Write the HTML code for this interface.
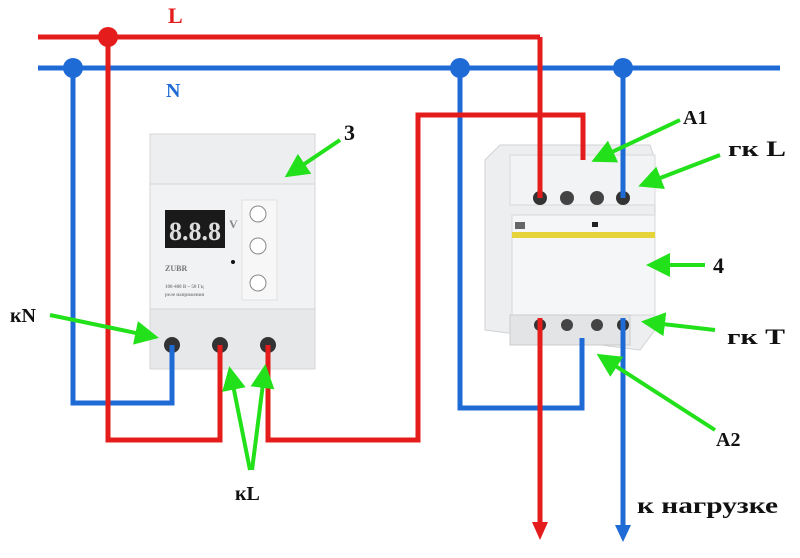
<!DOCTYPE html>
<html><head><meta charset="utf-8"><style>
body{margin:0;background:#fff;width:800px;height:558px;overflow:hidden}
svg{display:block}
text{font-family:"Liberation Serif",serif;font-weight:bold}
</style></head><body>
<svg width="800" height="558" viewBox="0 0 800 558" xmlns="http://www.w3.org/2000/svg">
<defs>
<marker id="g" markerWidth="6" markerHeight="6" refX="5" refY="3" orient="auto" markerUnits="strokeWidth"><path d="M0,0L6,3L0,6z" fill="#22e01a"/></marker>
</defs>
<rect x="150" y="134" width="165" height="50" fill="#eceeef" stroke="#d4d6d8"/>
<rect x="150" y="184" width="165" height="125" fill="#f1f2f3" stroke="#d4d6d8"/>
<rect x="150" y="309" width="165" height="60" fill="#e6e8ea" stroke="#d4d6d8"/>
<rect x="165" y="210" width="60" height="38" fill="#1a1a1a"/>
<text x="195" y="240" font-size="26" fill="#ddd" text-anchor="middle" font-family="Liberation Mono" font-weight="normal">8.8.8</text>
<text x="229" y="228" font-size="12" fill="#888" font-weight="normal">V</text>
<rect x="242" y="200" width="35" height="100" fill="#f7f7f7" stroke="#e0e0e0"/>
<circle cx="258" cy="214" r="8" fill="#fff" stroke="#888"/>
<circle cx="258" cy="246" r="8" fill="#fff" stroke="#888"/>
<circle cx="258" cy="283" r="8" fill="#fff" stroke="#888"/>
<circle cx="233" cy="262" r="2" fill="#111"/>
<text x="165" y="271" font-size="8" fill="#777" font-weight="normal" font-family="Liberation Sans">ZUBR</text>
<text x="165" y="288" font-size="5" fill="#888" font-weight="normal" font-family="Liberation Sans">100-400 В ~ 50 Гц</text>
<text x="165" y="296" font-size="5" fill="#888" font-weight="normal" font-family="Liberation Sans">реле напряжения</text>
<circle cx="172" cy="345" r="8" fill="#333"/>
<circle cx="220" cy="345" r="8" fill="#333"/>
<circle cx="268" cy="345" r="8" fill="#333"/>
<polygon points="485,160 500,145 650,145 655,160 655,330 640,350 485,330" fill="#eceeef" stroke="#d0d2d4"/>
<rect x="510" y="155" width="145" height="50" fill="#f2f3f4" stroke="#d8d8d8"/>
<rect x="512" y="215" width="143" height="100" fill="#f5f6f7" stroke="#d8d8d8"/>
<rect x="512" y="232" width="143" height="6" fill="#e6d43a"/>
<rect x="515" y="222" width="10" height="7" fill="#666"/>
<rect x="592" y="222" width="6" height="5" fill="#222"/>
<rect x="510" y="315" width="120" height="30" fill="#e2e4e6" stroke="#ccc"/>
<circle cx="540" cy="198" r="7" fill="#333"/><circle cx="567" cy="198" r="7" fill="#444"/>
<circle cx="597" cy="198" r="7" fill="#444"/><circle cx="623" cy="198" r="7" fill="#333"/>
<circle cx="540" cy="325" r="6" fill="#333"/><circle cx="567" cy="325" r="6" fill="#444"/>
<circle cx="597" cy="325" r="6" fill="#444"/><circle cx="623" cy="325" r="6" fill="#333"/>
<g fill="none" stroke="#1f6bd6" stroke-width="5">
<line x1="38" y1="68" x2="780" y2="68"/>
<polyline points="73,68 73,403 172,403 172,345"/>
<polyline points="460,68 460,408 582,408 582,338"/>
<line x1="623" y1="68" x2="623" y2="198"/>
<line x1="623" y1="318" x2="623" y2="530"/>
</g>
<polygon points="615,525 631,525 623,542" fill="#1f6bd6"/>
<circle cx="73" cy="68" r="10" fill="#1f6bd6"/>
<circle cx="460" cy="68" r="10" fill="#1f6bd6"/>
<circle cx="623" cy="68" r="10" fill="#1f6bd6"/>
<g fill="none" stroke="#e41c1c" stroke-width="5">
<line x1="38" y1="37" x2="540" y2="37"/>
<line x1="540" y1="37" x2="540" y2="198"/>
<polyline points="108,37 108,440 220,440 220,345"/>
<polyline points="268,345 268,440 418,440 418,115 583,115 583,160"/>
<line x1="540" y1="318" x2="540" y2="525"/>
</g>
<polygon points="532,522 548,522 540,540" fill="#e41c1c"/>
<circle cx="108" cy="37" r="10" fill="#e41c1c"/>
<g stroke="#22e01a" stroke-width="4" fill="none" marker-end="url(#g)">
<line x1="340" y1="140" x2="288" y2="175"/>
<line x1="680" y1="120" x2="595" y2="160"/>
<line x1="720" y1="155" x2="642" y2="185"/>
<line x1="705" y1="265" x2="650" y2="265"/>
<line x1="715" y1="330" x2="645" y2="322"/>
<line x1="715" y1="430" x2="600" y2="356"/>
<line x1="50" y1="315" x2="155" y2="337"/>
<line x1="250" y1="470" x2="230" y2="370"/>
<line x1="252" y1="470" x2="265" y2="368"/>
</g>
<text x="168" y="23" font-size="22" fill="#e41c1c">L</text>
<text x="166" y="97" font-size="20" fill="#1f6bd6">N</text>
<text x="344" y="140" font-size="22" fill="#111">3</text>
<text x="683" y="124" font-size="20" fill="#111">A1</text>
<text x="728" y="156" font-size="22" fill="#111" textLength="58" lengthAdjust="spacingAndGlyphs">гк L</text>
<text x="713" y="273" font-size="22" fill="#111">4</text>
<text x="727" y="344" font-size="22" fill="#111" textLength="58" lengthAdjust="spacingAndGlyphs">гк T</text>
<text x="716" y="446" font-size="20" fill="#111">A2</text>
<text x="10" y="322" font-size="20" fill="#111">кN</text>
<text x="235" y="500" font-size="20" fill="#111">кL</text>
<text x="637" y="513" font-size="23" fill="#111" textLength="141" lengthAdjust="spacingAndGlyphs">к нагрузке</text>
</svg>
</body></html>
